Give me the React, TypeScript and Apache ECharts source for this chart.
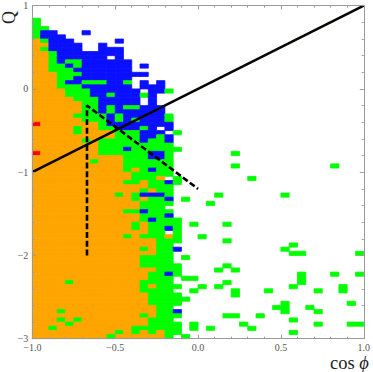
import React, { useEffect, useRef } from "react";
import * as echarts from "echarts";

// One string per 0.05-high band of Q from top (Q = 1) to bottom (Q = -3); one char per 0.05-wide bin of cos phi from -1.
// o orange, g green, b blue, r red, . empty
const o = (n: number) => "o".repeat(n);
const pad = (s: string, extra: number[] = []) => {
  const a = s.padEnd(40, ".").split("");
  extra.forEach((c) => (a[c] = "g"));
  return a.join("");
};
const cellRows: string[] = [
  pad(""),
  pad(""),
  pad(""),
  pad("g"),
  pad("g"),
  pad("gg"),
  pad("gbb...b"),
  pad("gbbb"),
  pad("ogbbb.....b"),
  pad("oobbbb..b"),
  pad("ogbbbb..bbb"),
  pad("oogbbbbbbbb"),
  pad("oogbbbbbb.b"),
  pad("oogbggbbbbbb"),
  pad("ooggbgbbbbbb.b"),
  pad("oogggbbbbbbb"),
  pad("ooogggbbbbbbbb"),
  pad("oooggbbbbbbb"),
  pad("ooogbbgggbbg.b.b"),
  pad("ooogggbbbbbb.bbb"),
  pad("ooooggg" + "bbbbbb" + "." + "bb" + "g"),
  pad("ooooggg" + "bb" + "g" + "bbb" + "g" + "b"),
  pad("ooooo" + "ggg" + "bbbbb" + "." + "b"),
  pad("oooooo" + "gg" + "bbbbb" + "." + "b"),
  pad("oooooo" + "gg" + "b" + "g" + "b" + "gg" + "bbb"),
  pad("oooooo" + "gg" + "b" + "g" + "bbbbbb"),
  pad("ooooo" + "ggg" + "g" + "b" + "g" + "b" + "bbbb" + "g"),
  pad("oooooo" + "gg" + "g" + "b" + "g" + "b" + "g" + "bbb" + "g"),
  pad("r" + o(7) + "g" + "bbbbbbb" + "b"),
  pad("ooooo" + "g" + "oo" + "gg" + "bbb" + "g" + "b" + "." + "b"),
  pad("ooooo" + "g" + o(4) + "ggg" + "bbb" + "." + "g"),
  pad(o(10) + "ggg" + "bb" + "g" + "b"),
  pad(o(6) + "g" + "o" + "ggggg" + "b" + "gg" + "b"),
  pad(o(8) + "ggggggggg"),
  pad(o(8) + "ggg" + "b" + "gggg" + "gg"),
  pad("r" + o(7) + "gggggg" + "bb" + "g", [24]),
  pad(o(11) + "ggg" + "bb" + "g"),
  pad(o(7) + "g" + "ooo" + "gggggg"),
  pad(o(11) + "gggggg", [24, 36]),
  pad(o(11) + "g" + "o" + "g" + "b" + "gg"),
  pad(o(12) + "ggggg"),
  pad(o(12) + "ggg" + "o" + "." + "g", [26]),
  pad(o(11) + "gg" + "o" + "gg" + "b" + "g"),
  pad(o(14) + "ggg"),
  pad(o(13) + "g" + "o" + "gg"),
  pad(o(10) + "g" + "o" + "g" + "bbb" + "g", [22, 30]),
  pad(o(12) + "g" + "o" + "gg" + "b" + "." + "g"),
  pad(o(13) + "gggg", [21]),
  pad(o(13) + "ggg"),
  pad(o(11) + "gg" + "b" + "ggg"),
  pad(o(13) + "ggg" + "b"),
  pad(o(13) + "g" + "b" + "ggg"),
  pad(o(12) + "g" + "o" + "gggg", [19, 23]),
  pad(o(12) + "g" + "o" + "gg" + "b" + "g"),
  pad(o(14) + "gg" + "." + "g"),
  pad(o(11) + "g" + "o" + "ggg" + "o" + "g", [20]),
  pad(o(15) + "ggg", [23]),
  pad(o(15) + "gg", [31]),
  pad(o(13) + "g" + "o" + "gg" + "b", [30]),
  pad(o(15) + "gg", [31, 32, 39]),
  pad(o(13) + "gggg" + "." + "g"),
  pad(o(13) + "gggg"),
  pad(o(13) + "ggggg", [23]),
  pad(o(15) + "ggg", [22, 24]),
  pad(o(14) + "gg" + "b" + "g", [32, 36, 39]),
  pad(o(14) + "ggg" + "." + "gg", [32]),
  pad(o(4) + "g" + o(8) + "g" + "ggg", [23, 32]),
  pad(o(13) + "g" + "o" + "ggg", [20, 22, 31, 37]),
  pad(o(13) + "gggg", [19, 24, 28, 34, 37]),
  pad(o(14) + "gggg", [24]),
  pad(o(14) + "ggggg"),
  pad(o(14) + "gggg", [30, 38]),
  pad(o(15) + "gg", [29, 30, 33]),
  pad("ooo" + "g" + o(11) + "gg" + "b", [30, 34]),
  pad(o(13) + "g" + "o" + "ggg", [23, 24, 27]),
  pad("ooo" + "g" + "o" + "g" + o(8) + "ggg", [31]),
  pad("oooo" + "g" + o(9) + "gggg", [19, 25, 34, 38, 39]),
  pad("oo" + "g" + o(9) + "gg" + "gggg", [19, 21, 26]),
  pad(o(10) + "g" + "o" + "g" + "o" + "g" + "o" + "gg", [31]),
  pad(o(9) + "g" + o(6) + "g" + "." + "g"),
];

const diagonal: number[][] = [[-1, -1], [1, 1]];
const dashed: number[][] = [[-0.67, -2], [-0.67, -0.2], [0, -1.2]];

const palette: Record<string, string> = { o: "#FFA500", g: "#00FF00", b: "#0A10FF", r: "#FF0000" };

const cells: number[][] = [];
const colorKeys = Object.keys(palette);
cellRows.forEach((row, r) =>
  row.split("").forEach((ch, c) => {
    if (ch !== ".") cells.push([-1 + c * 0.05, 1 - r * 0.05, colorKeys.indexOf(ch)]);
  })
);

const fmtMinus = (s: string) => s.replace("-", "\u2212");
const xLabel = (v: number) => fmtMinus(v.toFixed(1));
const yLabel = (v: number) => fmtMinus(String(v));
const serif = "'Liberation Serif', 'Times New Roman', serif";

export default function App() {
  const ref = useRef<HTMLDivElement>(null);
  useEffect(() => {
    const chart = echarts.init(ref.current!, undefined, { renderer: "svg" });
    const axisColor = "#9a9a9a";
    const common = {
      axisLine: { show: true, onZero: false, lineStyle: { color: axisColor, width: 1 } },
      axisTick: { show: true, inside: true, length: 4, lineStyle: { color: axisColor } },
      minorTick: { show: true, splitNumber: 5, length: 2, lineStyle: { color: axisColor } },
      splitLine: { show: false },
      z: 5,
    };
    const label = { color: "#555", fontFamily: serif, fontSize: 10, margin: 4 };
    chart.setOption({
      animation: false,
      textStyle: { fontFamily: serif },
      grid: { left: 32.3, right: 8.5, top: 5.7, bottom: 33.3 },
      xAxis: [
        { type: "value", min: -1, max: 1, interval: 0.5, position: "bottom", ...common, axisLabel: { ...label, margin: 4, formatter: xLabel, showMinLabel: true, showMaxLabel: true } },
        { type: "value", min: -1, max: 1, interval: 0.5, position: "top", ...common, axisLabel: { show: false } },
      ],
      yAxis: [
        { type: "value", min: -3, max: 1, interval: 1, position: "left", ...common, axisLabel: { ...label, formatter: yLabel } },
        { type: "value", min: -3, max: 1, interval: 1, position: "right", ...common, axisLabel: { show: false } },
      ],
      series: [
        {
          type: "custom",
          xAxisIndex: 0,
          yAxisIndex: 0,
          data: cells,
          encode: { x: 0, y: 1 },
          renderItem: (_: any, api: any) => {
            const x = api.value(0);
            const y = api.value(1);
            const a = api.coord([x, y]);
            const b = api.coord([x + 0.05, y - 0.05]);
            const color = palette[colorKeys[api.value(2)]];
            return {
              type: "rect",
              shape: { x: a[0], y: a[1], width: b[0] - a[0], height: b[1] - a[1] },
              style: { fill: color, stroke: color, lineWidth: 0.8 },
            };
          },
          z: 1,
        },
        {
          type: "line",
          data: diagonal,
          showSymbol: false,
          lineStyle: { color: "#0a0505", width: 2.6 },
          z: 3,
        },
        {
          type: "line",
          data: dashed,
          showSymbol: false,
          lineStyle: { color: "#000", width: 2.6, type: [6, 2.7] },
          z: 3,
        },
      ],
      graphic: [
        {
          type: "text",
          x: 18,
          y: 24,
          rotation: Math.PI / 2,
          style: { text: "Q", fontFamily: serif, fontSize: 18, fill: "#222", textAlign: "left", textVerticalAlign: "bottom" },
        },
        {
          type: "text",
          x: 330,
          y: 355,
          style: {
            text: "{a|cos }{b|\u03D5}",
            rich: {
              a: { fontFamily: serif, fontSize: 18.5, lineHeight: 16, fill: "#222" },
              b: { fontFamily: serif, fontStyle: "italic", fontSize: 18.5, lineHeight: 16, fill: "#222" },
            },
          },
        },
      ],
    });
    return () => chart.dispose();
  }, []);
  return <div ref={ref} style={{ position: "fixed", left: 0, top: 0, width: 373, height: 372, background: "#fff" }} />;
}
